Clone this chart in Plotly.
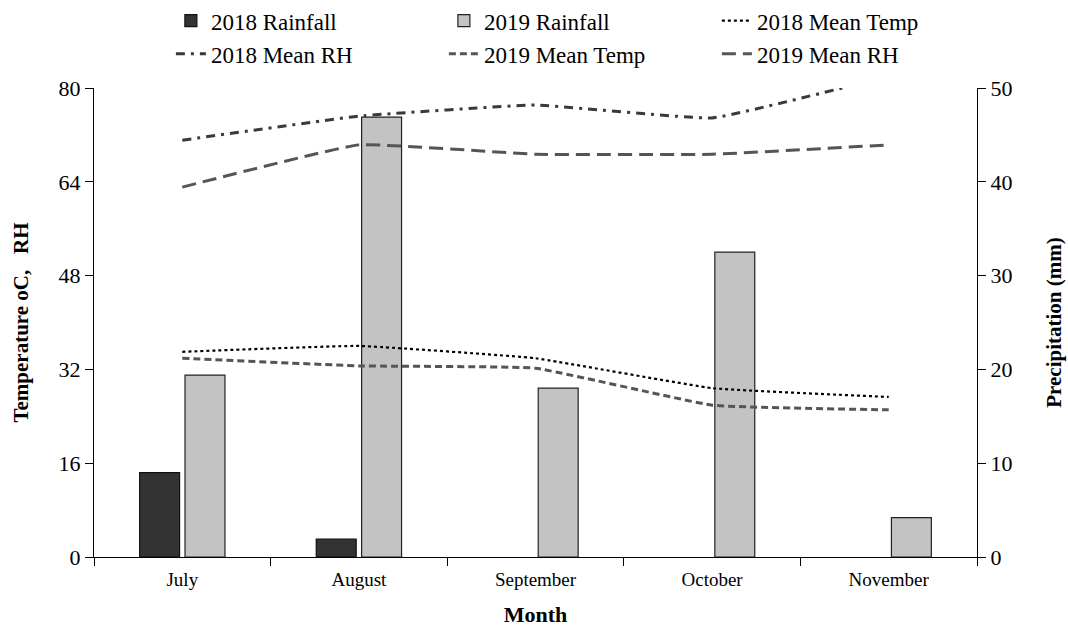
import plotly.graph_objects as go

months = ["July", "August", "September", "October", "November"]
rain_2018 = [9.0, 1.9, 0, 0, 0]
rain_2019 = [19.4, 46.9, 18.0, 32.5, 4.2]
temp_2018 = [35.0, 36.0, 33.9, 28.8, 27.3]
temp_2019 = [33.9, 32.6, 32.2, 25.9, 25.1]
rh_2018 = [71.1, 75.2, 77.1, 74.9, 82.0]
rh_2019 = [63.1, 70.3, 68.7, 68.7, 70.3]

left_ticks = [0, 16, 32, 48, 64, 80]
right_ticks = [0, 10, 20, 30, 40, 50]

FONT = "Liberation Serif, Times New Roman, serif"
SMOOTH = 0.3


def outline(vals):
    return [1.2 if v > 0 else 0 for v in vals]


fig = go.Figure()
fig.add_trace(go.Bar(x=months, y=rain_2018, name="2018 Rainfall", yaxis="y",
                     marker=dict(color="#333333", line=dict(color="#111111", width=outline(rain_2018))),
                     legend="legend"))
fig.add_trace(go.Bar(x=months, y=rain_2019, name="2019 Rainfall", yaxis="y",
                     marker=dict(color="#c3c3c3", line=dict(color="#222222", width=outline(rain_2019))),
                     legend="legend"))
fig.add_trace(go.Scatter(x=months, y=temp_2018, name="2018 Mean Temp", yaxis="y2", mode="lines",
                         line=dict(color="#000000", width=2.2, dash="dot", shape="spline", smoothing=SMOOTH),
                         legend="legend"))
fig.add_trace(go.Scatter(x=months, y=rh_2018, name="2018 Mean RH", yaxis="y2", mode="lines",
                         line=dict(color="#3a3a3a", width=3, dash="9px,6px,3px,6px", shape="spline", smoothing=SMOOTH),
                         legend="legend2"))
fig.add_trace(go.Scatter(x=months, y=temp_2019, name="2019 Mean Temp", yaxis="y2", mode="lines",
                         line=dict(color="#555555", width=3, dash="7px,4px", shape="spline", smoothing=SMOOTH),
                         legend="legend2"))
fig.add_trace(go.Scatter(x=months, y=rh_2019, name="2019 Mean RH", yaxis="y2", mode="lines",
                         line=dict(color="#555555", width=3, dash="14px,7px", shape="spline", smoothing=SMOOTH),
                         legend="legend2"))

legend_common = dict(orientation="h", xanchor="left", yanchor="middle", xref="container", yref="container",
                     entrywidth=228, entrywidthmode="pixels",
                     font=dict(family=FONT, size=23, color="#000"),
                     bgcolor="rgba(0,0,0,0)", itemclick=False, itemdoubleclick=False)

fig.update_layout(
    width=1068, height=627,
    margin=dict(l=94, r=91, t=88, b=70, autoexpand=False),
    paper_bgcolor="white", plot_bgcolor="white",
    font=dict(family=FONT, color="#000"),
    barmode="group", bargap=0.486, bargroupgap=0.12,
    showlegend=True,
    legend=dict(x=0.16, y=0.967, **legend_common),
    legend2=dict(x=0.16, y=0.914, **legend_common),
    xaxis=dict(type="category", showline=True, linecolor="#000", linewidth=1.3,
               ticks="outside", tickson="boundaries", ticklen=8, tickcolor="#000",
               tickfont=dict(family=FONT, size=19), showgrid=False, ticklabelstandoff=5,
               automargin=False,
               title=dict(text="<b>Month</b>", font=dict(family=FONT, size=22), standoff=20)),
    yaxis=dict(side="right", range=[0, 50], tickvals=right_ticks, showline=True, linecolor="#000",
               linewidth=1.3, ticks="outside", ticklen=8, tickcolor="#000", showgrid=False,
               zeroline=False, tickfont=dict(family=FONT, size=22), automargin=False,
               title=dict(text="<b>Precipitation (mm)</b>", font=dict(family=FONT, size=21), standoff=34)),
    yaxis2=dict(side="left", overlaying="y", range=[0, 80], tickvals=left_ticks, showline=True,
                linecolor="#000", linewidth=1.3, ticks="outside", ticklen=8, tickcolor="#000",
                showgrid=False, zeroline=False, tickfont=dict(family=FONT, size=22), automargin=False,
                title=dict(text="<b>Temperature oC,   RH</b>", font=dict(family=FONT, size=21), standoff=24)),
)

fig.write_html("out.html", config={"displayModeBar": False},
               post_script="document.body.style.margin='0';")
